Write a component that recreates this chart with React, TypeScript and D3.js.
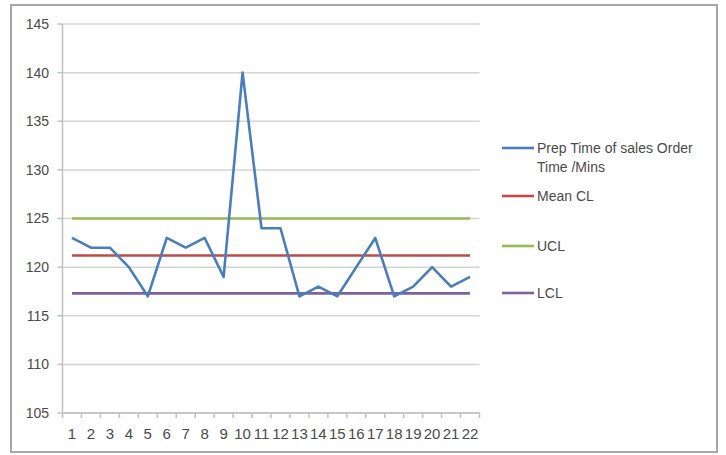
import React from "react";
import * as d3 from "d3";

// Process control chart: order prep time against its control limits
const samples: number[] = [
  1, 2, 3, 4, 5, 6, 7, 8, 9, 10, 11, 12, 13, 14, 15, 16, 17, 18, 19, 20, 21, 22,
];
const prepTime: number[] = [
  123, 122, 122, 120, 117, 123, 122, 123, 119, 140, 124, 124, 117, 118, 117, 120,
  123, 117, 118, 120, 118, 119,
];
const meanCL = 121.2;
const ucl = 125;
const lcl = 117.3;
const yTicks: number[] = [105, 110, 115, 120, 125, 130, 135, 140, 145];
const legendLabels: string[][] = [
  ["Prep Time of sales Order", "Time /Mins"],
  ["Mean CL"],
  ["UCL"],
  ["LCL"],
];

const W = 726;
const H = 455;
const plot = { left: 62.5, right: 479.5, top: 24, bottom: 413 };
const colors = ["#4a7ebb", "#be4b48", "#98b954", "#7d60a0"];
const font = "'Liberation Sans', Arial, sans-serif";
const textColor = "#4a4a4a";

export default function App() {
  const x = d3
    .scaleBand<number>()
    .domain(samples)
    .range([plot.left, plot.right]);
  const xc = (d: number) => (x(d) ?? 0) + x.bandwidth() / 2;
  const y = d3.scaleLinear().domain([105, 145]).range([plot.bottom, plot.top]);

  const line = d3
    .line<number>()
    .x((_, i) => xc(samples[i]))
    .y((v) => y(v));

  const constSeries = (v: number) => samples.map(() => v);
  const series = [prepTime, constSeries(meanCL), constSeries(ucl), constSeries(lcl)];

  const legendY = [148, 196, 246, 293];
  const boundaries = [...samples.map((s) => x(s) ?? 0), plot.right];

  return (
    <svg
      width={W}
      height={H}
      style={{ position: "absolute", left: 0, top: 0, background: "#fff" }}
    >
      <rect
        x={11}
        y={5}
        width={706}
        height={447}
        fill="#fff"
        stroke="#a6a6a6"
        strokeWidth={2}
      />
      {/* gridlines */}
      {yTicks.map((t) => (
        <line
          key={`g${t}`}
          x1={plot.left}
          x2={plot.right}
          y1={y(t)}
          y2={y(t)}
          stroke="#d4d4d4"
          strokeWidth={1.5}
        />
      ))}
      {/* value axis */}
      <line
        x1={plot.left}
        x2={plot.left}
        y1={plot.top}
        y2={plot.bottom}
        stroke="#bfbfbf"
        strokeWidth={1.5}
      />
      {yTicks.map((t) => (
        <g key={`y${t}`}>
          <line
            x1={plot.left - 5}
            x2={plot.left}
            y1={y(t)}
            y2={y(t)}
            stroke="#bfbfbf"
            strokeWidth={1.5}
          />
          <text
            x={49}
            y={y(t)}
            dy="0.35em"
            textAnchor="end"
            fontFamily={font}
            fontSize={14}
            fill={textColor}
          >
            {t}
          </text>
        </g>
      ))}
      {/* category axis */}
      <line
        x1={plot.left}
        x2={plot.right}
        y1={plot.bottom}
        y2={plot.bottom}
        stroke="#bfbfbf"
        strokeWidth={1.5}
      />
      {boundaries.map((b, i) => (
        <line
          key={`t${i}`}
          x1={b}
          x2={b}
          y1={plot.bottom}
          y2={plot.bottom + 5}
          stroke="#bfbfbf"
          strokeWidth={1.5}
        />
      ))}
      {samples.map((s) => (
        <text
          key={`x${s}`}
          x={xc(s)}
          y={439}
          textAnchor="middle"
          fontFamily={font}
          fontSize={15}
          fill={textColor}
        >
          {s}
        </text>
      ))}
      {/* series: control limits first, data on top */}
      {[1, 2, 3, 0].map((i) => (
        <path
          key={`s${i}`}
          d={line(series[i]) ?? ""}
          fill="none"
          stroke={colors[i]}
          strokeWidth={2.6}
          strokeLinejoin="round"
        />
      ))}
      {/* legend */}
      {legendLabels.map((lines, i) => (
        <g key={`l${i}`}>
          <line
            x1={502}
            x2={534}
            y1={legendY[i]}
            y2={legendY[i]}
            stroke={colors[i]}
            strokeWidth={2.6}
          />
          {lines.map((t, j) => (
            <text
              key={j}
              x={537}
              y={legendY[i] + j * 19}
              dy="0.35em"
              fontFamily={font}
              fontSize={14}
              fill={textColor}
            >
              {t}
            </text>
          ))}
        </g>
      ))}
    </svg>
  );
}
